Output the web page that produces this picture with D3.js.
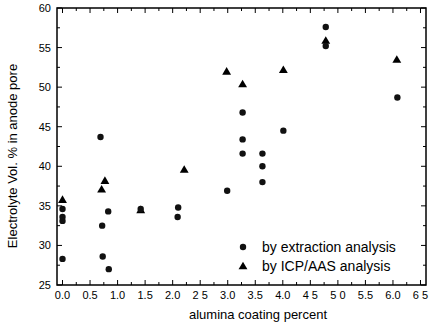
<!DOCTYPE html>
<html><head><meta charset="utf-8">
<script src="https://cdn.jsdelivr.net/npm/d3@7"></script>
<style>body{margin:0;background:#fff}svg{display:block}</style>
</head><body>
<svg id="c" width="437" height="326"></svg>
<script>
const extractionX = [0.0,0.0,0.0,0.0,0.69,0.72,0.73,0.83,0.84,1.42,2.10,2.09,2.99,3.27,3.27,3.27,3.63,3.63,3.63,4.01,4.78,4.78,6.08];
const extractionY = [34.6,33.6,33.1,28.3,43.7,32.5,28.6,34.3,27.0,34.6,34.8,33.6,36.9,46.8,43.4,41.6,41.6,40.0,38.0,44.5,57.6,55.2,48.7];
const icpX = [0.0,0.71,0.77,1.42,2.21,2.98,3.27,4.01,4.78,6.07];
const icpY = [35.8,37.1,38.2,34.5,39.6,52.0,50.4,52.2,55.9,53.5];
const xTicks = [0,0.5,1,1.5,2,2.5,3,3.5,4,4.5,5,5.5,6,6.5];
const xTickLabels = ["0.0","0.5","1.0","1.5","2.0","2 5","3.0","3.5","4.0","4 5","5 0","5.5","6.0","6 5"];
const yTicks = [25,30,35,40,45,50,55,60];
const legendLabels = ["by extraction analysis","by ICP/AAS analysis"];
const xTitle = "alumina coating percent";
const yTitle = "Electrolyte Vol. % in anode pore";

const svg = d3.select("#c");
const L=57,R=426,T=8,B=285;
const x = d3.scaleLinear().domain([-0.1,6.6]).range([L,R]);
const y = d3.scaleLinear().domain([25,60]).range([B,T]);
const font = "'Liberation Sans', Arial, sans-serif";

// ticks (inward) on all sides
const xMinor = d3.range(0,6.6,0.25);
const yMinor = d3.range(25,60.1,2.5);
const g = svg.append("g").attr("stroke","#000").attr("stroke-width",1);
xMinor.forEach(v=>{
  const len = (Math.round(v*100)%50===0)?5:3;
  g.append("line").attr("x1",x(v)).attr("x2",x(v)).attr("y1",B).attr("y2",B-len);
  g.append("line").attr("x1",x(v)).attr("x2",x(v)).attr("y1",T).attr("y2",T+len);
});
yMinor.forEach(v=>{
  const len = (Math.round(v*10)%50===0)?5:3;
  g.append("line").attr("y1",y(v)).attr("y2",y(v)).attr("x1",L).attr("x2",L+len);
  g.append("line").attr("y1",y(v)).attr("y2",y(v)).attr("x1",R).attr("x2",R-len);
});
svg.append("rect").attr("x",L).attr("y",T).attr("width",R-L).attr("height",B-T)
  .attr("fill","none").attr("stroke","#000").attr("stroke-width",1.5);

// tick labels
svg.append("g").selectAll("text").data(xTicks).join("text")
  .attr("x",d=>x(d)).attr("y",B+14).attr("text-anchor","middle")
  .attr("font-family",font).attr("font-size",11).text((d,i)=>xTickLabels[i]);
svg.append("g").selectAll("text").data(yTicks).join("text")
  .attr("x",L-6).attr("y",d=>y(d)+4).attr("text-anchor","end")
  .attr("font-family",font).attr("font-size",11).text(d=>d);

// titles
svg.append("text").attr("x",258).attr("y",319).attr("text-anchor","middle")
  .attr("font-family",font).attr("font-size",13).text(xTitle);
svg.append("text").attr("transform","translate(17,156) rotate(-90)").attr("text-anchor","middle")
  .attr("font-family",font).attr("font-size",13).text(yTitle);

// marks
const tri = d3.symbol().type(d3.symbolTriangle).size(34);
svg.append("g").selectAll("path").data(icpX.map((v,i)=>[v,icpY[i]])).join("path")
  .attr("d",tri).attr("transform",d=>`translate(${x(d[0])},${y(d[1])+0.8})`).attr("fill","#000");
svg.append("g").selectAll("circle").data(extractionX.map((v,i)=>[v,extractionY[i]])).join("circle")
  .attr("cx",d=>x(d[0])).attr("cy",d=>y(d[1])).attr("r",3.2).attr("fill","#111");

// legend
const lg = svg.append("g").attr("transform","translate(243,247)");
lg.append("circle").attr("cx",0).attr("cy",0).attr("r",3.2).attr("fill","#111");
lg.append("path").attr("d",tri).attr("transform","translate(0,19.8)").attr("fill","#000");
lg.selectAll("text").data(legendLabels).join("text")
  .attr("x",19).attr("y",(d,i)=>i*19+5).attr("font-family",font).attr("font-size",14).text(d=>d);
</script>
</body></html>
